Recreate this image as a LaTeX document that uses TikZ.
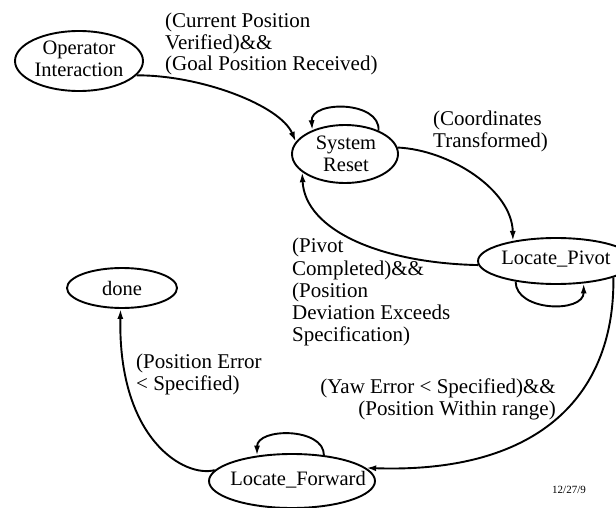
\documentclass[tikz,border=0pt]{standalone}
\usepackage{fontspec}
\setmainfont{Liberation Serif}
\usetikzlibrary{shapes.geometric,arrows.meta}
\begin{document}
\begin{tikzpicture}[x=1pt,y=-1pt,
  state/.style={draw, ellipse, line width=1.9pt, inner sep=0pt},
  statetext/.style={inner sep=0pt, align=center, font=\fontsize{20.5}{21.5}\selectfont},
  lbl/.style={inner sep=0pt, align=left, font=\fontsize{21}{21.5}\selectfont},
  trans/.style={line width=1.9pt, -{Latex[length=10pt,width=6pt]}},
]
\useasboundingbox (0,0) rectangle (616,508);
\clip (0,0) rectangle (616,508);

% states: outline ellipses with their names set on top
\node[state, minimum width=128pt, minimum height=60pt] (op) at (79,61) {};
\node[statetext] (op-t) at (79,59) {Operator\\Interaction};
\node[state, minimum width=106pt, minimum height=58pt] (sr) at (345,154) {};
\node[statetext] (sr-t) at (346,154) {System\\Reset};
\node[state, minimum width=156pt, minimum height=46pt] (lp) at (556,261) {};
\node[statetext] (lp-t) at (556,259) {Locate\_Pivot};
\node[state, minimum width=110pt, minimum height=40pt] (done) at (122,288) {};
\node[statetext] (done-t) at (122,288) {done};
\node[state, minimum width=166pt, minimum height=54pt] (lf) at (292,481) {};
\node[statetext] (lf-t) at (298,480) {Locate\_Forward};

% transitions
\draw[trans] (op.-14) .. controls (200,75) and (280,105) .. (sr.166);
\draw[trans] (sr.35) .. controls +(2,-30) and +(-2,-30) .. (sr.144);
\draw[trans] (sr.7) .. controls (450,150) and (512,190) .. (lp.155);
\draw[trans] (lp.183) .. controls (380,263) and (305,230) .. (sr.203);
\draw[trans] (lp.207) .. controls +(0,30) and +(0,30) .. (lp.321);
\draw[trans] (lp.344) .. controls (615,390) and (545,474) .. (lf.10);
\draw[trans] (lf.39) .. controls +(0,-28) and +(0,-28) .. (lf.144);
\draw[trans] (lf.172) .. controls (185,478) and (118,440) .. (done.266);

% transition conditions
\node[lbl, anchor=north west] (l-op) at (165,13) {(Current Position\\Verified)\&\&\\(Goal Position Received)};
\node[lbl, anchor=north west] (l-sr) at (433,111) {(Coordinates\\Transformed)};
\node[lbl, anchor=north west, font=\fontsize{21}{22.3}\selectfont] (l-lp) at (292,238) {(Pivot\\Completed)\&\&\\(Position\\Deviation Exceeds\\Specification)};
\node[lbl, anchor=north west] (l-lf) at (136,354) {(Position Error\\< Specified)};
\node[lbl, anchor=north east, align=right] (l-yaw) at (556,379) {(Yaw Error < Specified)\&\&\\(Position Within range)};
\node[inner sep=0pt, font=\fontsize{11}{12}\selectfont] (date) at (569,490) {12/27/9};
\end{tikzpicture}
\end{document}
